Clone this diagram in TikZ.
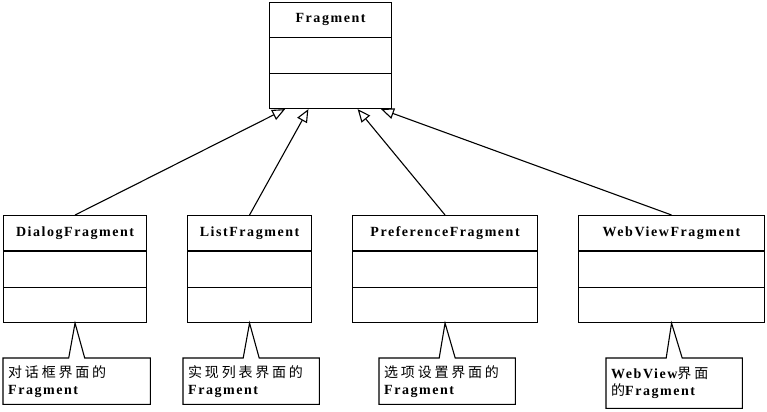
\documentclass[tikz,border=0pt]{standalone}
\usepackage{fontspec}
\setmainfont{Liberation Serif}
\newfontfamily\tfont[LetterSpace=11]{Liberation Serif}
\newfontfamily\cjk[LetterSpace=20]{Noto Sans CJK SC}
\usetikzlibrary{calc,arrows.meta}
\tikzset{
  cls/.style={draw, line width=1.1bp, inner sep=0pt, anchor=north west, fill=white},
  ttl/.style={font=\fontsize{14bp}{16bp}\bfseries\tfont, inner sep=0pt},
  note/.style={inner xsep=5bp, inner ysep=0pt, anchor=north west, align=left,
     font=\fontsize{14bp}{17bp}\selectfont},
  noteline/.style={draw, line width=1.1bp, line join=miter},
  inh/.style={line width=1.1bp, -{Triangle[open, length=13bp, width=11bp, fill=white]}},
  div/.style={line width=1.1bp}
}
\newcommand{\bfr}[1]{{\bfseries\tfont #1}}
\begin{document}
\begin{tikzpicture}[x=1bp,y=-1bp]
\useasboundingbox (0,0) rectangle (767,411);
% classes
\node[cls, minimum width=122bp, minimum height=106bp] (frag) at (269,2) {};
\node[cls, minimum width=143bp, minimum height=107bp] (dialog) at (3,215) {};
\node[cls, minimum width=124bp, minimum height=107bp] (list) at (187,215) {};
\node[cls, minimum width=185bp, minimum height=107bp] (pref) at (352,215) {};
\node[cls, minimum width=186bp, minimum height=107bp] (web) at (578,215) {};
\foreach \c in {frag,dialog,list,pref,web}{
  \draw[div] ($(\c.north west)!1/3!(\c.south west)$) -- ($(\c.north east)!1/3!(\c.south east)$);
  \draw[div] ($(\c.north west)!2/3!(\c.south west)$) -- ($(\c.north east)!2/3!(\c.south east)$);
}
\node[ttl] (fragT) at ($(frag.north)!1/6!(frag.south)$) {Fragment};
\node[ttl] (dialogT) at ($(dialog.north)!1/6!(dialog.south)$) {DialogFragment};
\node[ttl] (listT) at ($(list.north)!1/6!(list.south)$) {ListFragment};
\node[ttl] (prefT) at ($(pref.north)!1/6!(pref.south)$) {PreferenceFragment};
\node[ttl] (webT) at ($(web.north)!1/6!(web.south)$) {WebViewFragment};
% inheritance
\draw[inh] (dialog.north) -- ($(frag.south west)!0.131!(frag.south east)$);
\draw[inh] (list.north) -- ($(frag.south west)!0.32!(frag.south east)$);
\draw[inh] (pref.north) -- ($(frag.south west)!0.72!(frag.south east)$);
\draw[inh] (web.north) -- ($(frag.south west)!0.91!(frag.south east)$);
% notes
\node[note, minimum width=147bp, minimum height=46bp, text width=137bp] (n1) at (3,358)
  {{\cjk 对话框界面的}\\\bfr{Fragment}};
\node[note, minimum width=136bp, minimum height=46bp, text width=126bp] (n2) at (183,358)
  {{\cjk 实现列表界面的}\\\bfr{Fragment}};
\node[note, minimum width=136bp, minimum height=46bp, text width=126bp] (n3) at (379,358)
  {{\cjk 选项设置界面的}\\\bfr{Fragment}};
\node[note, minimum width=136bp, minimum height=50bp, text width=126bp] (n4) at (606,358)
  {\bfr{WebView}{\cjk 界面}\\{\cjk 的}\bfr{Fragment}};
\foreach \n/\c in {n1/dialog,n2/list,n3/pref,n4/web}{
  \draw[noteline] ($(\n.north)+(-8,0)$) -- (\c.south) -- ($(\n.north)+(8,0)$)
    -- (\n.north east) -- (\n.south east) -- (\n.south west) -- (\n.north west) -- cycle;
}
\end{tikzpicture}
\end{document}
